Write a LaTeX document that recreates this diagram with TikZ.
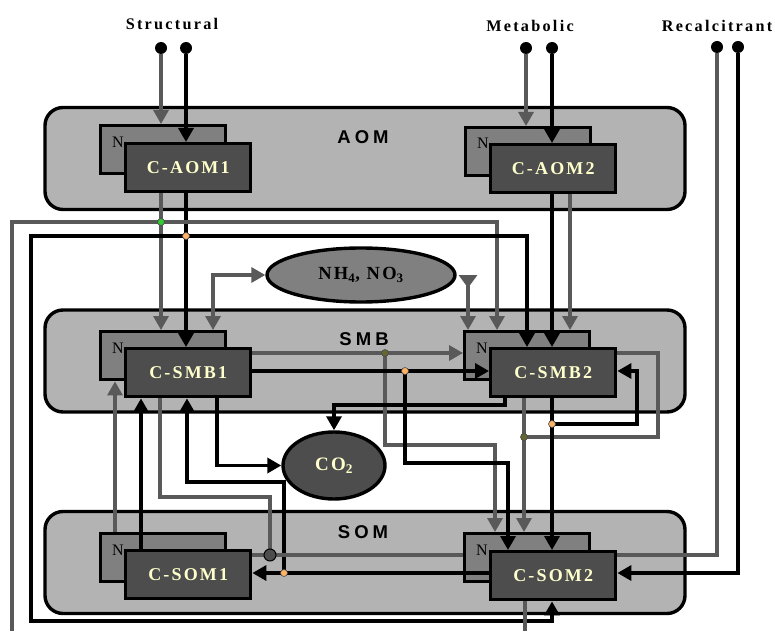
\documentclass[tikz,border=0pt]{standalone}
\usepackage{fontspec}
\setmainfont{Liberation Serif}
\newfontfamily\cfont[LetterSpace=12]{Liberation Serif}
\newfontfamily\tfont[LetterSpace=14]{Liberation Serif}
\newfontfamily\pfont[LetterSpace=22]{Liberation Sans}
\usetikzlibrary{arrows.meta,shapes.geometric}
\definecolor{poolgray}{RGB}{179,179,179}
\definecolor{ngray}{RGB}{128,128,128}
\definecolor{cdark}{RGB}{77,77,77}
\definecolor{lgray}{RGB}{89,89,89}
\definecolor{cream}{RGB}{255,255,204}
\definecolor{jgreen}{RGB}{51,204,51}
\definecolor{jorange}{RGB}{255,179,102}
\definecolor{jolive}{RGB}{102,102,51}
\begin{document}
\begin{tikzpicture}[x=1pt,y=-1pt,
  >={Triangle[length=14pt,width=15pt]},
  pool/.style={draw=black, line width=3.4pt, fill=poolgray, rounded corners=18pt, minimum width=640pt, minimum height=102pt, inner sep=0pt},
  nbox/.style={draw=black, line width=3.4pt, fill=ngray, minimum width=125pt, minimum height=48pt, inner sep=0pt, anchor=north west},
  cbox/.style={draw=black, line width=3.4pt, fill=cdark, minimum width=125pt, minimum height=48pt, inner sep=0pt, anchor=north west, text=cream, font={\cfont\bfseries\fontsize{18}{18}\selectfont}},
  nlab/.style={anchor=base west, inner sep=0pt, font={\fontsize{16}{16}\selectfont}},
  plab/.style={inner sep=0pt, font={\pfont\bfseries\fontsize{18.5}{18.5}\selectfont}},
  tlab/.style={inner sep=0pt, font={\tfont\bfseries\fontsize{16.2}{17}\selectfont}},
  indot/.style={circle, fill=black, draw=none, minimum size=12pt, inner sep=0pt},
  jdot/.style={circle, draw=black!70, line width=0.6pt, minimum size=7pt, inner sep=0pt},
  gl/.style={draw=lgray, line width=3.2pt},
  bl/.style={draw=black, line width=3.4pt}]
\fill[white] (0,0) rectangle (775,631);
\useasboundingbox (0,0) rectangle (775,631);
% helper coordinates
\foreach \v in {12,31,115,141,160,161,186,187,213,217,270,284,333,385,405,468,495,497,505,508,524,525,527,552,570,637,658}{\coordinate (x\v) at (\v,0);}
\foreach \v in {222,236,353,371,405,424,437,445,463,482,497,555,573,621}{\coordinate (y\v) at (0,\v);}
% pools
\node[pool] (AOM) at (365,158.5) {};
\node[pool] (SMB) at (365,361) {};
\node[pool] (SOM) at (365,562.5) {};
\node[plab] (lAOM) at (363,137) {AOM};
\node[plab] (lSMB) at (364,339) {SMB};
\node[plab] (lSOM) at (363,532) {SOM};
% top labels
\node[tlab] (tS) at (172,24) {Structural};
\node[tlab] (tM) at (530,26) {Metabolic};
\node[tlab] (tR) at (717,26) {Recalcitrant};
% N boxes
\node[nbox] (nA1) at (99,124) {};
\node[nbox] (nA2) at (464,126) {};
\node[nbox] (nS1) at (99,330) {};
\node[nbox] (nS2) at (463,330) {};
\node[nbox] (nO1) at (99,532) {};
\node[nbox] (nO2) at (463,532) {};
\foreach \n in {nA1,nA2,nS1,nS2,nO1,nO2}{\node[nlab] (N\n) at ([shift={(13,23)}]\n.north west) {N};}
% C boxes
\node[cbox] (cA1) at (124,142) {C-AOM1};
\node[cbox] (cA2) at (489,143) {C-AOM2};
\node[cbox] (cS1) at (124,347) {C-SMB1};
\node[cbox] (cS2) at (489,347) {C-SMB2};
\node[cbox] (cO1) at (124,549) {C-SOM1};
\node[cbox] (cO2) at (489,550) {C-SOM2};
% ellipses
\node[ellipse, draw=black, line width=3.4pt, fill=ngray, minimum width=188pt, minimum height=54pt, inner sep=0pt,
      font={\cfont\bfseries\fontsize{18.5}{18.5}\selectfont}] (nh) at (361,275) {NH\textsubscript{4}, NO\textsubscript{3}};
\node[ellipse, draw=black, line width=3.4pt, fill=cdark, minimum width=102pt, minimum height=67pt, inner sep=0pt, text=cream,
      font={\cfont\bfseries\fontsize{19}{19}\selectfont}] (co) at (334,465.5) {CO\textsubscript{2}};
% input dots
\node[indot] (inS1) at (161,48) {};
\node[indot] (inS2) at (186,48) {};
\node[indot] (inM1) at (526,48) {};
\node[indot] (inM2) at (552,48) {};
\node[indot] (inR1) at (717,47) {};
\node[indot] (inR2) at (738,47) {};
% free ends and junctions
\coordinate (bot12) at (12,631);
\coordinate (bot525) at (525,631);
\coordinate (j161) at (161,222);
\coordinate (j186) at (186,236);
\coordinate (j270) at (270,555);
\coordinate (j284) at (284,573);
\coordinate (j385) at (385,353);
\coordinate (j405) at (405,371);
\coordinate (j524) at (524,437);
\coordinate (j552) at (552,424);
% inputs
\draw[gl,->] (inS1) -- (nA1.north -| inS1);
\draw[bl,->] (inS2) -- (cA1.north -| inS2);
\draw[gl,->] (inM1) -- (nA2.north -| inM1);
\draw[bl,->] (inM2) -- (cA2.north -| inM2);
\draw[gl] (inR1) |- (cO2.east |- y555);
\draw[bl,->] (inR2) |- (cO2.east |- y573);
% AOM -> SMB
\draw[gl,->] (cA1.south -| x161) -- (nS1.north -| x161);
\draw[bl,->] (cA1.south -| x186) -- (cS1.north -| x186);
\draw[bl,->] (cA2.south -| x552) -- (cS2.north -| x552);
\draw[gl,->] (cA2.south -| x570) -- (nS2.north -| x570);
% outer loops
\draw[gl,->] (bot12) |- (x497 |- y222) -- (nS2.north -| x497);
\draw[bl,<->] (cS2.north -| x527) |- (x31 |- y236) |- (x552 |- y621) -- (cO2.south -| x552);
% mineral N
\draw[gl,<->] (nS1.north -| x213) |- (nh.west);
\draw[gl,{Triangle[reversed,length=13pt,width=18pt]}-{Triangle[length=14pt,width=15pt]}] (nh.east -| x468) -- (nS2.north -| x468);
% SOM1 -> SMB1
\draw[gl,->] (nO1.north -| x115) -- (nS1.south -| x115);
\draw[bl,->] (cO1.north -| x141) -- (cS1.south -| x141);
% SMB1 bottom
\draw[gl] (cS1.south -| x160) |- (x270 |- y497) -- (j270);
\draw[bl,->] (cS1.south -| x217) |- (co.west);
\draw[bl,->] (j284) -- (x284 |- y482) -| (cS1.south -| x187);
% SOM level
\draw[gl] (cO1.east |- y555) -- (nO2.west |- y555);
\draw[bl,->] (cO2.west |- y573) -- (cO1.east |- y573);
% SMB1 right
\draw[gl,->] (cS1.east |- y353) -- (nS2.west |- y353);
\draw[gl,->] (j385) |- (x495 |- y445) -- (nO2.north -| x495);
\draw[bl,->] (cS1.east |- y371) -- (cS2.west |- y371);
\draw[bl,->] (j405) |- (x508 |- y463) -- (cO2.north -| x508);
% SMB2
\draw[bl,->] (cS2.south -| x505) |- (co.north |- y405) -- (co.north);
\draw[gl,->] (cS2.south -| x524) -- (nO2.north -| x524);
\draw[gl] (cS2.east |- y353) -| (x658 |- y437) -- (j524);
\draw[bl,->] (cS2.south -| x552) -- (cO2.north -| x552);
\draw[bl,->] (j552) -| (x637 |- y371) -- (cS2.east |- y371);
% SOM2 bottom
\draw[gl] (cO2.south -| x525) -- (bot525);
% junction dots
\node[jdot, fill=jgreen] (d161) at (j161) {};
\node[jdot, fill=jorange] (d186) at (j186) {};
\node[circle, draw=black, line width=1pt, fill=cdark, minimum size=12pt, inner sep=0pt] (d270) at (j270) {};
\node[jdot, fill=jorange] (d284) at (j284) {};
\node[jdot, fill=jolive] (d385) at (j385) {};
\node[jdot, fill=jorange] (d405) at (j405) {};
\node[jdot, fill=jolive] (d524) at (j524) {};
\node[jdot, fill=jorange] (d552) at (j552) {};
\end{tikzpicture}
\end{document}
